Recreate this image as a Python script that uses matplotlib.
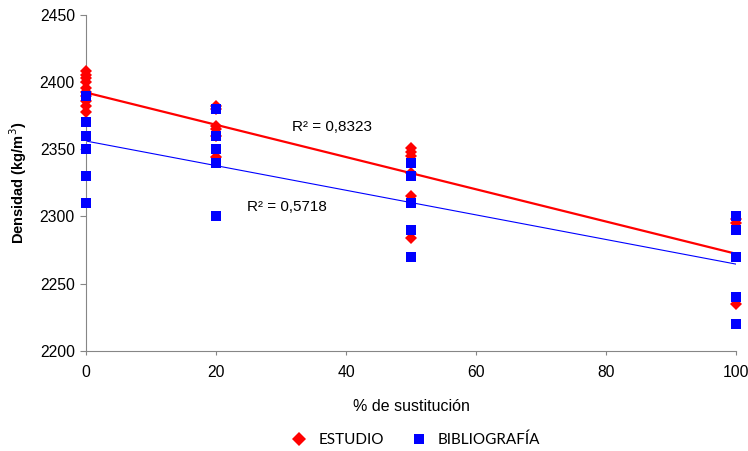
import matplotlib
matplotlib.use("Agg")
import matplotlib.pyplot as plt
import numpy as np
from matplotlib.lines import Line2D

plt.rcParams['font.family'] = ['Liberation Sans', 'DejaVu Sans']

# ESTUDIO (red diamonds)
estudio_x = [0]*10 + [20]*6 + [50]*6 + [100]*3
estudio_y = [2408, 2405, 2403, 2400, 2396, 2393, 2390, 2386, 2382, 2378,
             2382, 2380, 2367, 2365, 2360, 2344,
             2351, 2348, 2345, 2332, 2315, 2284,
             2298, 2295, 2235]

# BIBLIOGRAFIA (blue squares)
biblio_x = [0]*6 + [20]*5 + [50]*5 + [100]*5
biblio_y = [2390, 2370, 2360, 2350, 2330, 2310,
            2380, 2360, 2350, 2340, 2300,
            2340, 2330, 2310, 2290, 2270,
            2300, 2290, 2270, 2240, 2220]

r2_labels = ["R² = 0,8323", "R² = 0,5718"]

fig = plt.figure(figsize=(7.48, 4.51), dpi=100)
ax = fig.add_axes([0.115, 0.2224, 0.869, 0.7443])

ax.plot(estudio_x, estudio_y, 'D', color='#ff0000', markersize=6.5,
        markeredgewidth=0, zorder=3, clip_on=False)
ax.plot(biblio_x, biblio_y, 's', color='#0000ff', markersize=6.5,
        markeredgewidth=0, zorder=4, clip_on=False)

# linear trend lines
xs = np.array([0, 100])
m1, b1 = np.polyfit(estudio_x, estudio_y, 1)
m2, b2 = np.polyfit(biblio_x, biblio_y, 1)
ax.plot(xs, m1*xs + b1, color='#ff0000', lw=1.6, zorder=2)
ax.plot(xs, m2*xs + b2, color='#0000ff', lw=0.8, zorder=2)

ax.text(31.7, 2363.4, r2_labels[0], fontsize=11)
ax.text(24.8, 2304.4, r2_labels[1], fontsize=11)

ax.set_xlim(0, 100)
ax.set_ylim(2200, 2450)
ax.set_xticks([0, 20, 40, 60, 80, 100])
ax.set_yticks(range(2200, 2451, 50))
for s in ['top', 'right']:
    ax.spines[s].set_visible(False)
for s in ['left', 'bottom']:
    ax.spines[s].set_color('#868686')
ax.tick_params(axis='y', colors='#868686', labelcolor='black', labelsize=11.3,
               length=4, direction='out', pad=4)
ax.tick_params(axis='x', colors='#868686', labelcolor='black', labelsize=11.3,
               length=3, direction='out', pad=7)
ax.set_ylabel('Densidad (kg/m$^3$)', fontsize=10.5, fontweight='bold', labelpad=8)
ax.set_xlabel('% de sustitución', fontsize=11.5, labelpad=14)

handles = [Line2D([], [], marker='D', color='#ff0000', ls='none', markersize=7.5,
                  markeredgewidth=0),
           Line2D([], [], marker='s', color='#0000ff', ls='none', markersize=7.5,
                  markeredgewidth=0)]
fig.legend(handles, ['ESTUDIO', 'BIBLIOGRAFÍA'], loc='center', ncol=2,
           bbox_to_anchor=(0.553, 0.025), frameon=False, handletextpad=0.45,
           handlelength=1.6, columnspacing=1.5, prop={'family': 'Lato', 'size': 11})

fig.savefig('out.png', dpi=100)
